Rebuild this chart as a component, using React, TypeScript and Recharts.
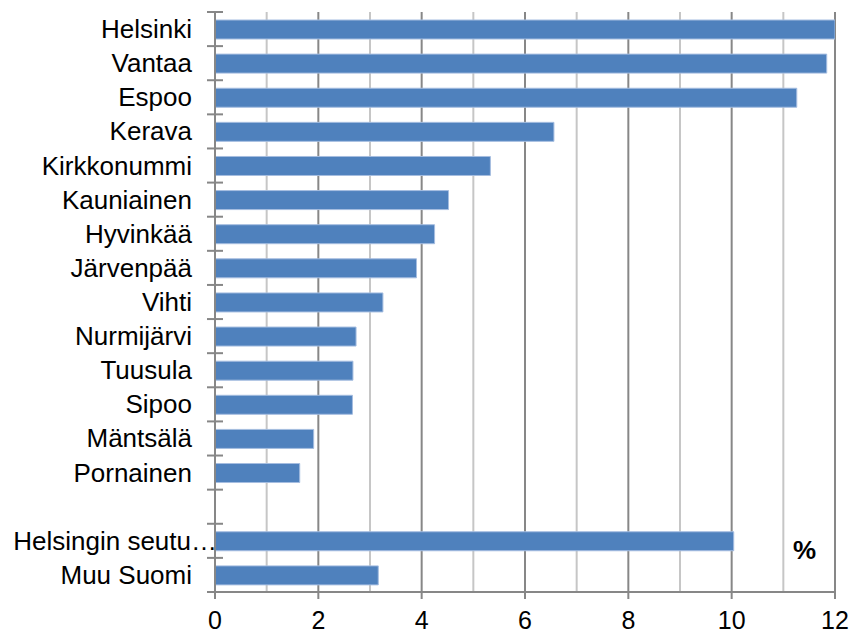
import { BarChart, Bar, XAxis, YAxis, CartesianGrid } from "recharts";

// ── Data ────────────────────────────────────────────────────────────────
const municipalities = [
  "Helsinki",
  "Vantaa",
  "Espoo",
  "Kerava",
  "Kirkkonummi",
  "Kauniainen",
  "Hyvinkää",
  "Järvenpää",
  "Vihti",
  "Nurmijärvi",
  "Tuusula",
  "Sipoo",
  "Mäntsälä",
  "Pornainen",
  "",
  "Helsingin seutu…",
  "Muu Suomi",
];

const shares: (number | null)[] = [
  12.0, 11.84, 11.26, 6.56, 5.33, 4.52, 4.25, 3.9, 3.25, 2.73, 2.67, 2.66,
  1.91, 1.64, null, 10.04, 3.16,
];

const xTicks = [0, 2, 4, 6, 8, 10, 12];
const minorLines = [1, 3, 5, 7, 9, 11];
const majorLines = [2, 4, 6, 8, 10, 12];

const rows = municipalities.map((name, i) => ({ name, value: shares[i] }));

// ── Layout ──────────────────────────────────────────────────────────────
const W = 851;
const H = 635;
const MARGIN = { top: 12, right: 16, left: 0, bottom: 0 };
const X_AXIS_H = 43;
const PLOT_H = H - MARGIN.top - MARGIN.bottom - X_AXIS_H;
const BAND = PLOT_H / rows.length;

const DARK = "#878787";
const LIGHT = "#c6c6c6";
const FONT = "'Liberation Sans', Arial, sans-serif";

// category label + boundary tick marks that cross the axis
function YTick(props: any) {
  const { x, y, payload, index } = props;
  const label: string = payload.value;
  const truncated = label.endsWith("…");
  const top = y - BAND / 2;
  const bottom = y + BAND / 2;
  return (
    <g>
      <line x1={x - 8} x2={x + 8} y1={top} y2={top} stroke={DARK} strokeWidth={2} />
      {index === rows.length - 1 && (
        <line x1={x - 8} x2={x} y1={bottom} y2={bottom} stroke={DARK} strokeWidth={2} />
      )}
      <text
        x={truncated ? x + 2 : x - 23}
        y={y}
        textAnchor="end"
        dominantBaseline="central"
        fontSize={26}
        fill="#000"
        fontFamily={FONT}
      >
        {label}
      </text>
    </g>
  );
}

export default function App() {
  return (
    <div
      style={{
        position: "absolute",
        left: 0,
        top: 0,
        width: W,
        height: H,
        background: "#fff",
        fontFamily: FONT,
      }}
    >
      <BarChart
        width={W}
        height={H}
        data={rows}
        layout="vertical"
        margin={MARGIN}
        barSize={19}
      >
        <CartesianGrid
          horizontal={false}
          verticalValues={minorLines}
          stroke={LIGHT}
          strokeWidth={2}
        />
        <CartesianGrid
          horizontal={false}
          verticalValues={majorLines}
          stroke={DARK}
          strokeWidth={2}
        />
        <XAxis
          type="number"
          domain={[0, 12]}
          ticks={xTicks}
          allowDataOverflow
          height={X_AXIS_H}
          tickSize={7}
          tickMargin={12}
          axisLine={{ stroke: DARK, strokeWidth: 2 }}
          tickLine={{ stroke: DARK, strokeWidth: 2 }}
          tick={{ fontSize: 25, fill: "#000", fontFamily: FONT }}
        />
        <XAxis
          xAxisId="top"
          type="number"
          orientation="top"
          domain={[0, 12]}
          height={0}
          tick={false}
          tickLine={false}
          axisLine={{ stroke: DARK, strokeWidth: 2 }}
        />
        <YAxis
          type="category"
          dataKey="name"
          width={215}
          interval={0}
          tickSize={0}
          tickMargin={0}
          axisLine={{ stroke: DARK, strokeWidth: 2 }}
          tickLine={false}
          tick={(p: any) => <YTick {...p} />}
        />
        <Bar
          dataKey="value"
          fill="#4f81bd"
          stroke="#a5bde0"
          strokeWidth={1}
          isAnimationActive={false}
        />
      </BarChart>
      <div
        style={{
          position: "absolute",
          left: 793,
          top: 537,
          fontSize: 26,
          lineHeight: 1,
          fontWeight: "bold",
        }}
      >
        %
      </div>
    </div>
  );
}
